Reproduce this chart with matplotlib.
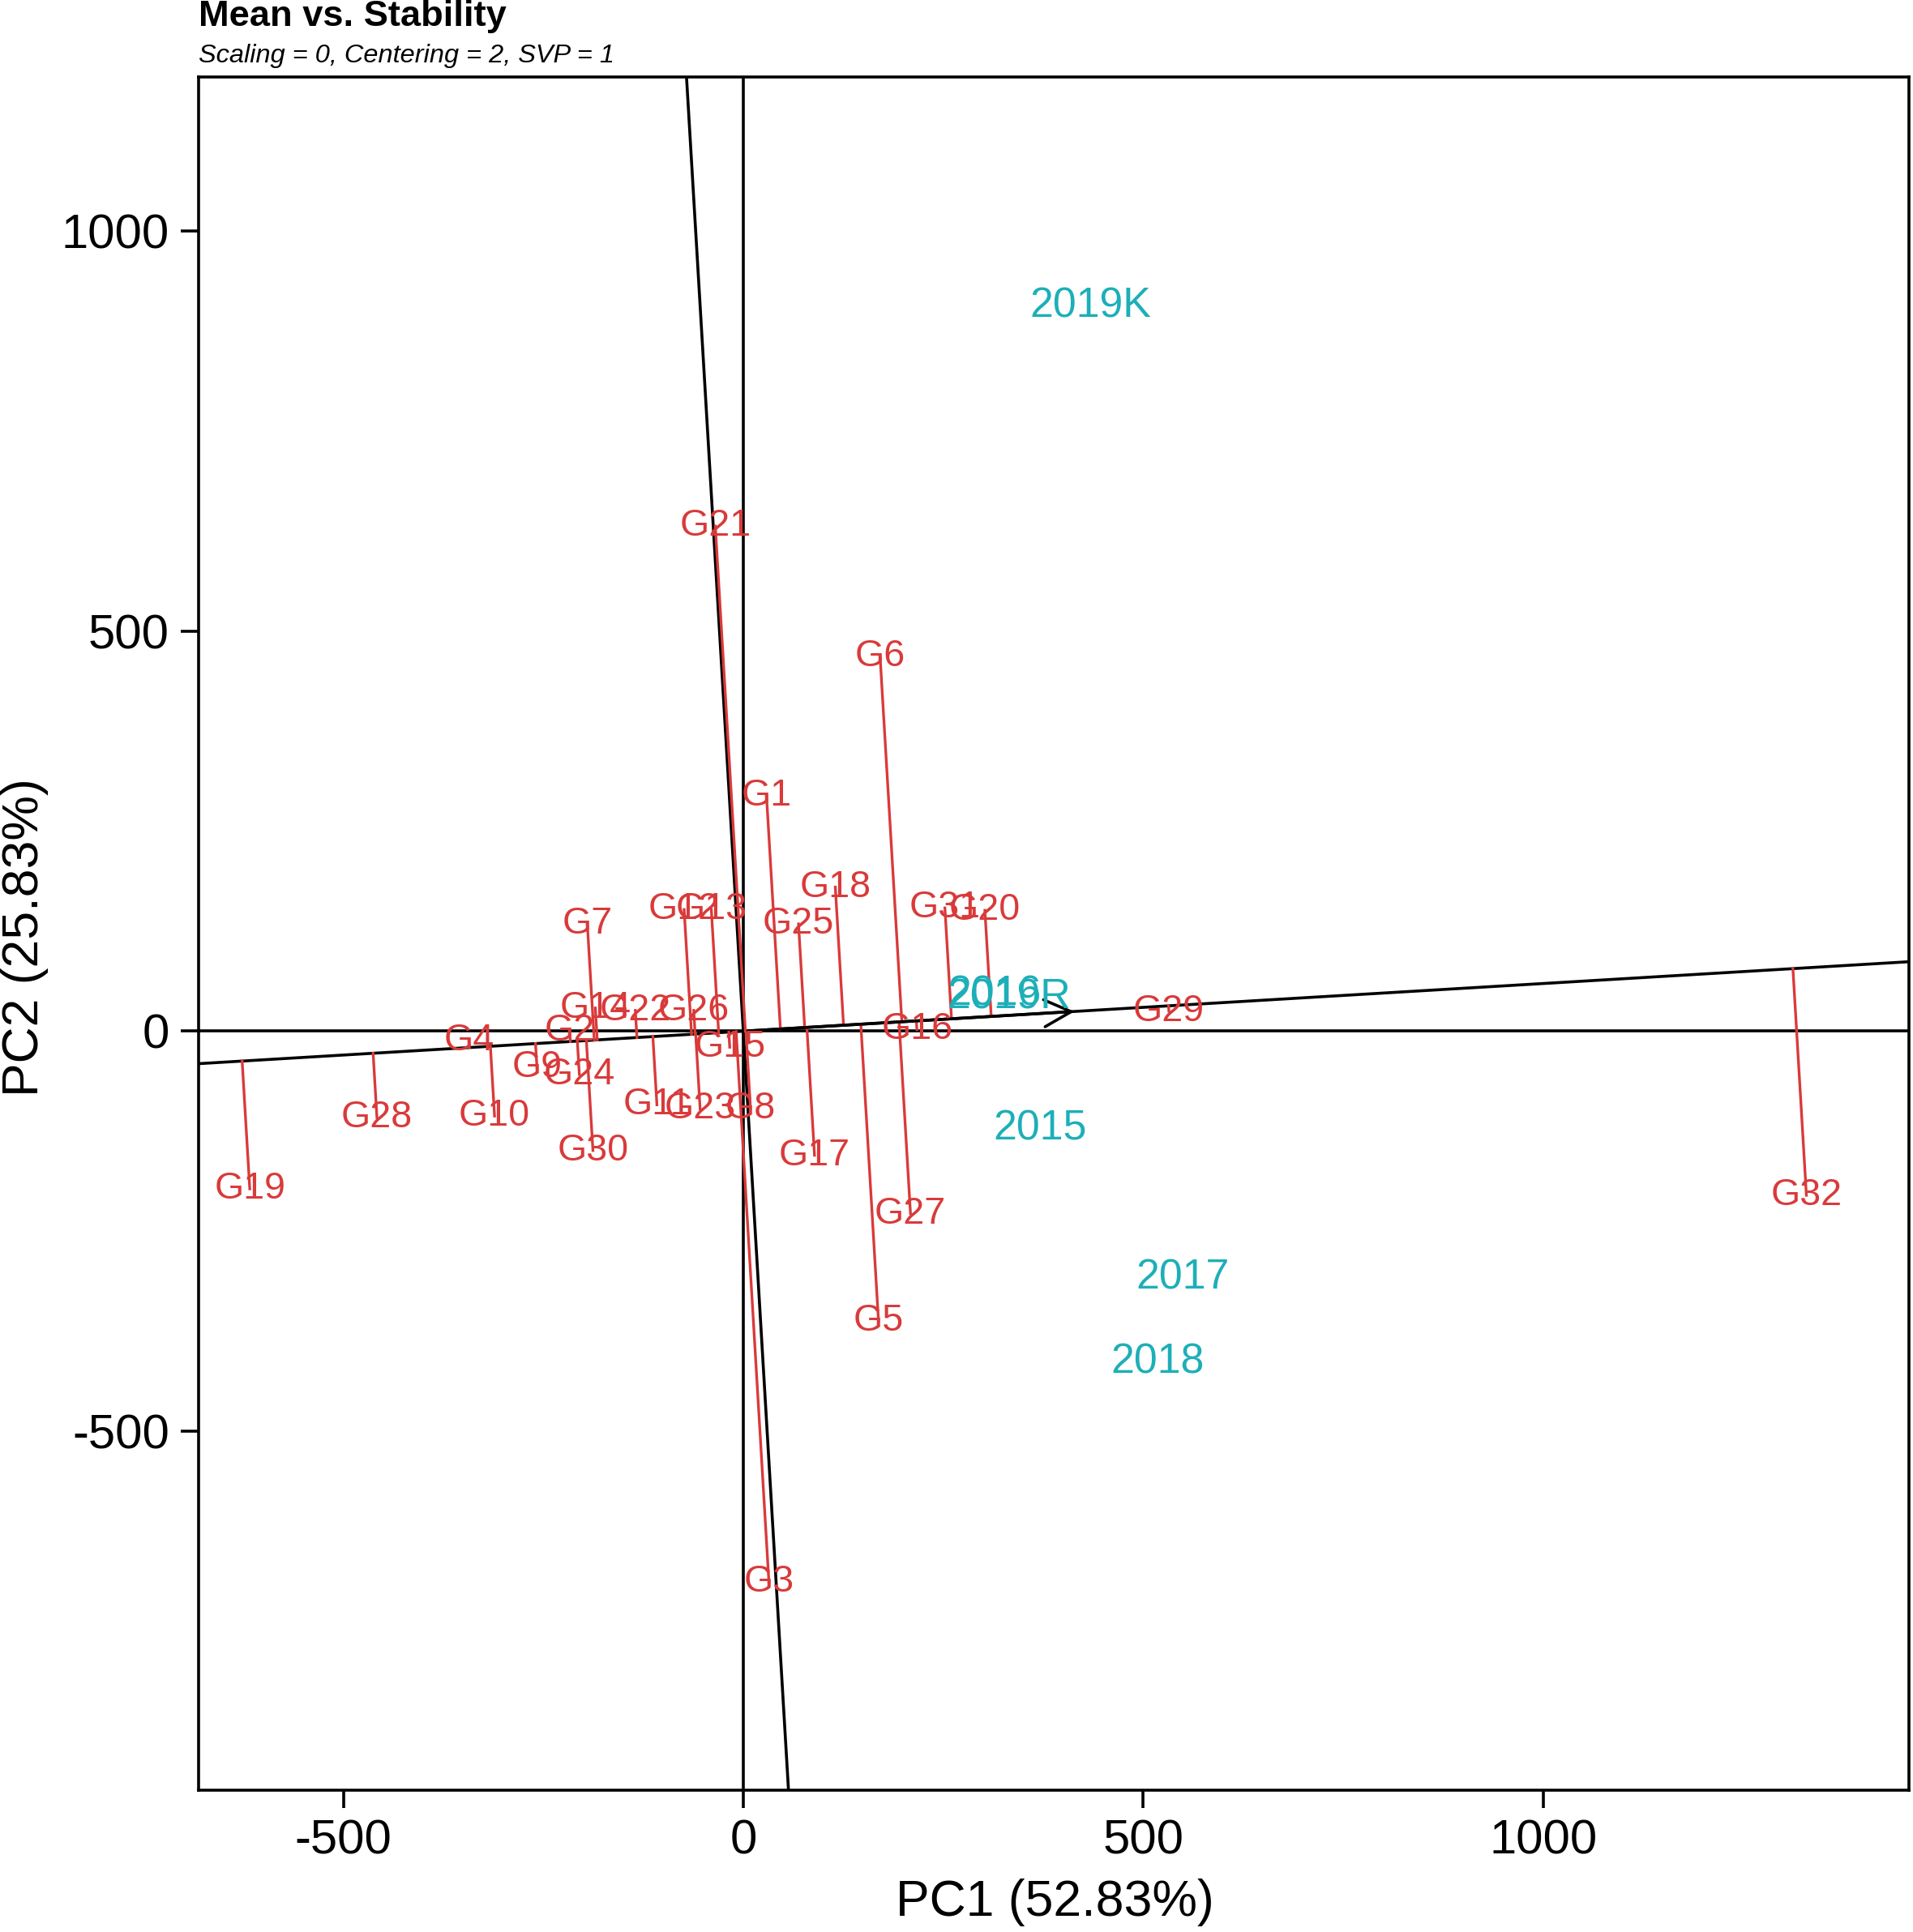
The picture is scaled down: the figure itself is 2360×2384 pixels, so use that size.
import numpy as np
import matplotlib
matplotlib.use("Agg")
import matplotlib.pyplot as plt

plt.rcParams['font.family'] = ['Liberation Sans', 'DejaVu Sans']
plt.rcParams['axes.unicode_minus'] = False

# genotype scores (PC1, PC2)
genotypes = ['G1', 'G2', 'G3', 'G4', 'G5', 'G6', 'G7', 'G8', 'G9', 'G10',
             'G11', 'G12', 'G13', 'G14', 'G15', 'G16', 'G17', 'G18', 'G19', 'G20',
             'G21', 'G22', 'G23', 'G24', 'G25', 'G26', 'G27', 'G28', 'G29', 'G30',
             'G31', 'G32']
gen_pc1 = [29, -217, 32, -343, 169, 171, -195, 9, -258, -311,
           -108, -74, -40, -185, -17, 217, 89, 115, -617, 302,
           -35, -135, -54, -205, 69, -62, 209, -458, 532, -188,
           252, 1329]
gen_pc2 = [294, 0, -688, -12, -362, 468, 134, -97, -45, -106,
           -92, 152, 152, 29, -20, 2, -155, 180, -197, 151,
           631, 26, -97, -54, 134, 26, -228, -108, 25, -149,
           154, -205]

# environment scores
envs = ['2015', '2016', '2017', '2018', '2019K', '2019R']
env_pc1 = [371, 314, 549, 518, 434, 332]
env_pc2 = [-122, 46, -308, -414, 906, 42]

gen_col = '#D93A3A'
env_col = '#1DAFB8'

fig = plt.figure(figsize=(11.8, 11.92), dpi=200)
ax = fig.add_axes([0.1038, 0.0735, 0.894, 0.8866])

ax.set_xlim(-681, 1457)
ax.set_ylim(-948, 1192)

# average environment coordinate and the AEA lines
mx, my = np.mean(env_pc1), np.mean(env_pc2)
ax.axhline(0, color='black', lw=1.3)
ax.axvline(0, color='black', lw=1.3)
ax.axline((0, 0), (mx, my), color='black', lw=1.3)
ax.axline((0, 0), (-my, mx), color='black', lw=1.3)
ax.annotate('', xy=(mx, my), xytext=(0, 0),
            arrowprops=dict(arrowstyle='->', color='black', lw=1.3,
                            mutation_scale=30))

# projections of genotypes onto the mean axis
v = np.array([mx, my])
for x, y in zip(gen_pc1, gen_pc2):
    t = (x * mx + y * my) / v.dot(v)
    ax.plot([x, t * mx], [y, t * my], color=gen_col, lw=1.2)

for name, x, y in zip(genotypes, gen_pc1, gen_pc2):
    ax.text(x, y, name, color=gen_col, fontsize=16.8, ha='center', va='center')

for name, x, y in zip(envs, env_pc1, env_pc2):
    ax.text(x, y, name, color=env_col, fontsize=18.7, ha='center', va='center')

ax.set_xticks([-500, 0, 500, 1000])
ax.set_yticks([-500, 0, 500, 1000])
ax.tick_params(axis='both', labelsize=21.5, length=8, width=1.3, color='black', pad=5)
for s in ax.spines.values():
    s.set_linewidth(1.3)

fig.text(0.5513, 0.0155, 'PC1 (52.83%)', fontsize=22.5, ha='center', va='center')
fig.text(0.0131, 0.515, 'PC2 (25.83%)', fontsize=22.5, rotation=90,
         ha='center', va='center')

fig.text(0.1038, 0.9912, 'Mean vs. Stability', fontsize=16.3, fontweight='bold',
         ha='left', va='center')
fig.text(0.1038, 0.9711, 'Scaling = 0, Centering = 2, SVP = 1', fontsize=11.7,
         style='italic', ha='left', va='center')

fig.savefig('out.png', dpi=200)
